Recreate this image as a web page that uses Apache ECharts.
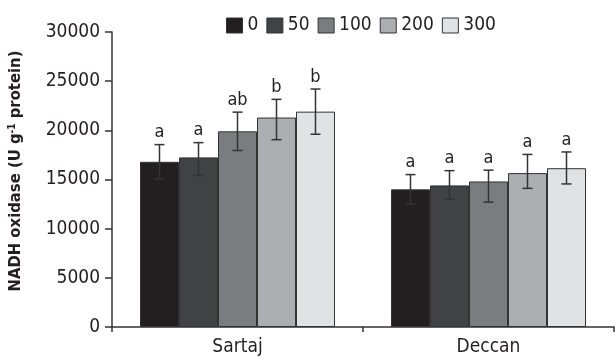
<!DOCTYPE html>
<html>
<head>
<meta charset="utf-8">
<script src="https://cdn.jsdelivr.net/npm/echarts@6/dist/echarts.min.js"></script>
<style>html,body{margin:0;padding:0;background:#fff}#c{width:615px;height:358px}</style>
</head>
<body>
<div id="c"></div>
<script>
const categories = ['Sartaj', 'Deccan'];
const seriesNames = ['0', '50', '100', '200', '300'];
const sartajMeans = [16800, 17250, 19900, 21300, 21900];
const sartajLow = [15050, 15400, 17950, 19050, 19600];
const sartajHigh = [18550, 18750, 21850, 23150, 24200];
const sartajLetters = ['a', 'a', 'ab', 'b', 'b'];
const deccanMeans = [14000, 14400, 14800, 15650, 16150];
const deccanLow = [12500, 13000, 12700, 14100, 14550];
const deccanHigh = [15500, 15900, 15950, 17550, 17800];
const deccanLetters = ['a', 'a', 'a', 'a', 'a'];
const yTicks = [0, 5000, 10000, 15000, 20000, 25000, 30000];

const colors = ['#231f20', '#414244', '#7b7c7f', '#adaeb1', '#e1e2e4'];
const FONT = '"DejaVu Sans Condensed", "Liberation Sans", Arial, sans-serif';
const BAR_W = 39;
const TXT = '#231f20';

const means = [sartajMeans, deccanMeans];
const lows = [sartajLow, deccanLow];
const highs = [sartajHigh, deccanHigh];
const letters = [sartajLetters, deccanLetters];

const chart = echarts.init(document.getElementById('c'), null, {renderer: 'canvas'});

const barSeries = seriesNames.map((name, s) => ({
  name: name,
  type: 'bar',
  barWidth: BAR_W,
  barGap: '0%',
  data: means.map(m => m[s]),
  itemStyle: {color: colors[s], borderColor: '#333', borderWidth: 1},
  emphasis: {disabled: true},
  z: 2
}));

const errData = [];
const errLetters = [];
for (let c = 0; c < categories.length; c++) {
  for (let s = 0; s < seriesNames.length; s++) {
    errData.push([c, s, lows[c][s], highs[c][s]]);
    errLetters.push(letters[c][s]);
  }
}

const errSeries = {
  type: 'custom',
  data: errData,
  z: 5,
  silent: true,
  renderItem: function (params, api) {
    const c = api.value(0), s = api.value(1), lo = api.value(2), hi = api.value(3);
    const pHi = api.coord([c, hi]);
    const pLo = api.coord([c, lo]);
    const x = pHi[0] + (s - 2) * BAR_W;
    const cap = 5;
    const st = {stroke: '#333', lineWidth: 1.5};
    return {
      type: 'group',
      children: [
        {type: 'line', shape: {x1: x, y1: pLo[1], x2: x, y2: pHi[1]}, style: st},
        {type: 'line', shape: {x1: x - cap, y1: pHi[1], x2: x + cap, y2: pHi[1]}, style: st},
        {type: 'line', shape: {x1: x - cap, y1: pLo[1], x2: x + cap, y2: pLo[1]}, style: st},
        {type: 'text', x: x, y: pHi[1] - 3,
          style: {text: errLetters[params.dataIndex], fontFamily: FONT, fontSize: 18,
            fill: TXT, align: 'center', verticalAlign: 'bottom'}}
      ]
    };
  }
};

chart.setOption({
  animation: false,
  backgroundColor: '#fff',
  legend: {
    data: seriesNames,
    left: 226,
    top: 16,
    padding: 0,
    itemWidth: 16,
    itemHeight: 15,
    itemGap: 8,
    icon: 'rect',
    itemStyle: {borderWidth: 1},
    textStyle: {fontFamily: FONT, fontSize: 19, color: TXT}
  },
  grid: {left: 112, right: 1, top: 32, bottom: 31},
  xAxis: {
    type: 'category',
    data: categories,
    axisLine: {lineStyle: {color: '#333', width: 1.5}},
    axisTick: {show: true, length: 5, lineStyle: {color: '#333', width: 1.5}},
    axisLabel: {fontFamily: FONT, fontSize: 19, color: TXT, margin: 11}
  },
  yAxis: {
    type: 'value',
    min: yTicks[0],
    max: yTicks[yTicks.length - 1],
    interval: yTicks[1] - yTicks[0],
    splitLine: {show: false},
    axisLine: {show: true, lineStyle: {color: '#333', width: 1.5}},
    axisTick: {show: true, length: 7, lineStyle: {color: '#333', width: 1.5}},
    axisLabel: {fontFamily: FONT, fontSize: 19, color: TXT, margin: 12,
      formatter: function (v) { return String(v); }}
  },
  graphic: [{
    type: 'text',
    x: 16,
    y: 171,
    rotation: Math.PI / 2,
    style: {
      text: '{b|NADH oxidase (U g}{s|-1}{b| protein)}',
      align: 'center',
      verticalAlign: 'middle',
      fill: TXT,
      rich: {
        b: {fontFamily: FONT, fontSize: 16.5, fontWeight: 'bold', fill: TXT, lineHeight: 18},
        s: {fontFamily: FONT, fontSize: 10, fontWeight: 'bold', fill: TXT, verticalAlign: 'top', lineHeight: 18}
      }
    }
  }],
  series: barSeries.concat([errSeries])
});
</script>
</body>
</html>
